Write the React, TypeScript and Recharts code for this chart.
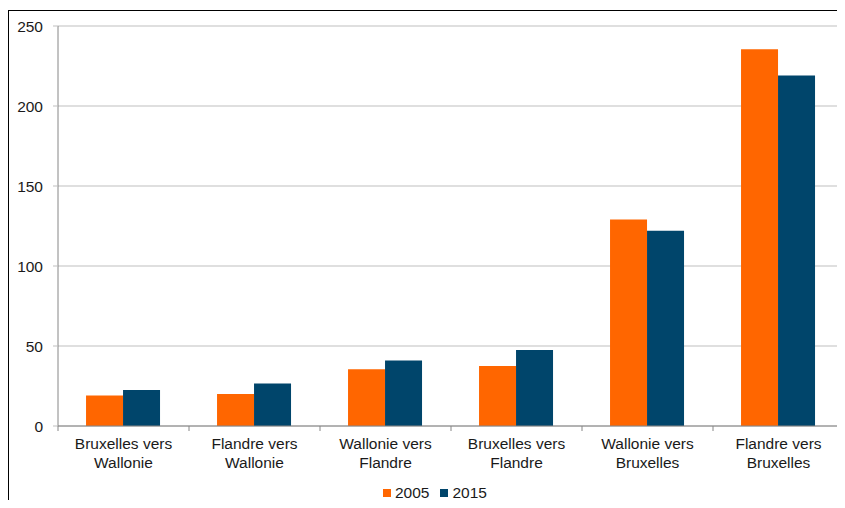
import { Bar, BarChart, CartesianGrid, Legend, XAxis, YAxis } from "recharts"

// Flux entre régions (2005 vs 2015)
const categories = [
  "Bruxelles vers Wallonie",
  "Flandre vers Wallonie",
  "Wallonie vers Flandre",
  "Bruxelles vers Flandre",
  "Wallonie vers Bruxelles",
  "Flandre vers Bruxelles",
]
const values2005 = [19, 20, 35.5, 37.5, 129, 235.5]
const values2015 = [22.5, 26.5, 41, 47.5, 122, 219]
const yTicks = [0, 50, 100, 150, 200, 250]

const data = categories.map((name, i) => ({
  name,
  y2005: values2005[i],
  y2015: values2015[i],
}))

const ORANGE = "#FF6600"
const BLUE = "#00456B"
const FONT = "'Liberation Sans', Arial, sans-serif"
const TEXT = "#1a1a1a"

const CHART_W = 837
const CHART_H = 492
const Y_AXIS_W = 50
const LEGEND_H = 20
// the legend height is added to the bottom offset by recharts
const MARGIN = { top: 18, right: 1, left: 0, bottom: 24 - LEGEND_H }
const BAND = (CHART_W - MARGIN.left - MARGIN.right - Y_AXIS_W) / categories.length

// two-line category label, with tick marks on the band boundaries
const CategoryTick = (props: any) => {
  const { x, y, payload, index } = props
  const label: string = payload.value
  const cut = label.lastIndexOf(" ")
  const lines = [label.slice(0, cut), label.slice(cut + 1)]
  const axisY = y - 5
  return (
    <g>
      <line x1={x - BAND / 2} x2={x - BAND / 2} y1={axisY} y2={axisY + 5} stroke="#868686" />
      {index === categories.length - 1 && (
        <line x1={x + BAND / 2} x2={x + BAND / 2} y1={axisY} y2={axisY + 5} stroke="#868686" />
      )}
      <text x={x} y={y} textAnchor="middle" fill={TEXT} fontSize={15.5} fontFamily={FONT}>
        <tspan x={x} dy={18}>{lines[0]}</tspan>
        <tspan x={x} dy={18.5}>{lines[1]}</tspan>
      </text>
    </g>
  )
}

const renderLegend = (props: any) => {
  const { payload } = props
  return (
    <div style={{ display: "flex", alignItems: "center", fontFamily: FONT, fontSize: 15.5, color: TEXT }}>
      {payload.map((entry: any, i: number) => (
        <div key={`legend-${i}`} style={{ display: "flex", alignItems: "center", marginRight: 11 }}>
          <span style={{ width: 8, height: 8, background: entry.color, display: "inline-block", marginRight: 4 }} />
          <span>{entry.value}</span>
        </div>
      ))}
    </div>
  )
}

export default function App() {
  return (
    <div style={{ position: "relative", width: CHART_W, height: CHART_H }}>
      <div style={{ position: "absolute", left: 0, top: 2, width: CHART_W, height: 1, background: "#000" }} />
      <div style={{ position: "absolute", left: 0, top: 2, width: 1, height: CHART_H + 6, background: "#000" }} />
      <BarChart
        width={CHART_W}
        height={CHART_H}
        data={data}
        margin={MARGIN}
        barCategoryGap="21.4%"
        barGap={0}
      >
        <CartesianGrid horizontal vertical={false} stroke="#BFBFBF" strokeWidth={1} />
        <XAxis
          dataKey="name"
          interval={0}
          height={50}
          stroke="#868686"
          tickLine={false}
          tickSize={5}
          tickMargin={0}
          tick={<CategoryTick />}
        />
        <YAxis
          width={Y_AXIS_W}
          domain={[0, 250]}
          ticks={yTicks}
          interval={0}
          stroke="#868686"
          tickLine={{ stroke: "#BFBFBF" }}
          tickSize={5}
          tickMargin={10}
          tick={{ fill: TEXT, fontSize: 15.5, fontFamily: FONT }}
        />
        <Legend
          content={renderLegend}
          wrapperStyle={{ left: 375, top: 476, width: "auto", height: LEGEND_H }}
        />
        <Bar dataKey="y2005" name="2005" fill={ORANGE} isAnimationActive={false} />
        <Bar dataKey="y2015" name="2015" fill={BLUE} isAnimationActive={false} />
      </BarChart>
    </div>
  )
}
